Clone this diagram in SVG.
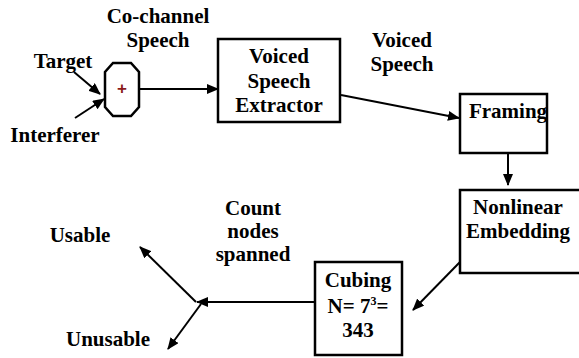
<svg xmlns="http://www.w3.org/2000/svg" width="579" height="358" viewBox="0 0 579 358">
<style>
  .t { font-family: "Liberation Serif", "Times New Roman", serif; font-weight: bold; font-size: 21px; fill: #000; text-anchor: middle; }
  .box { fill: #fff; stroke: #000; stroke-width: 2.5; }
  .c { stroke: #000; stroke-width: 2; fill: none; }
</style>
<defs>
  <marker id="ah" markerUnits="userSpaceOnUse" markerWidth="12" markerHeight="10" refX="11" refY="5" orient="auto">
    <path d="M0,0 L12,5 L0,10 z" fill="#000"/>
  </marker>
</defs>
<rect width="579" height="358" fill="#fff"/>

<g id="connectors">
  <line class="c" x1="74" y1="72" x2="100" y2="94" marker-end="url(#ah)"/>
  <line class="c" x1="75" y1="118" x2="104" y2="99" marker-end="url(#ah)"/>
  <line class="c" x1="140" y1="89" x2="218" y2="89" marker-end="url(#ah)"/>
  <line class="c" x1="341" y1="95" x2="459" y2="118" marker-end="url(#ah)"/>
  <line class="c" x1="508" y1="153" x2="508" y2="185" marker-end="url(#ah)"/>
  <line class="c" x1="460" y1="262" x2="413" y2="310" marker-end="url(#ah)"/>
  <line class="c" x1="315" y1="302" x2="197" y2="302" marker-end="url(#ah)"/>
  <line class="c" x1="196" y1="302" x2="140" y2="247" marker-end="url(#ah)"/>
  <line class="c" x1="201" y1="304" x2="168" y2="349" marker-end="url(#ah)"/>
</g>

<g id="labels">
  <text class="t" x="63" y="68">Target</text>
  <text class="t" x="55" y="142">Interferer</text>
  <text class="t" x="158" y="23">Co-channel</text>
  <text class="t" x="158" y="47">Speech</text>
  <text class="t" x="402" y="47">Voiced</text>
  <text class="t" x="402" y="71">Speech</text>
  <text class="t" x="253" y="215">Count</text>
  <text class="t" x="253" y="238">nodes</text>
  <text class="t" x="253" y="261">spanned</text>
  <text class="t" x="80" y="242">Usable</text>
  <text class="t" x="108" y="346">Unusable</text>
</g>

<g id="adder">
  <polygon points="113,63 131,63 139,72 139,107 131,116 113,116 105,107 105,72" fill="#fff" stroke="#000" stroke-width="2.5"/>
  <text x="122" y="94" style="font-family: 'Liberation Sans', Arial, sans-serif; font-weight: bold; font-size: 17px; fill: #8b1a1a; text-anchor: middle;">+</text>
</g>

<g id="extractor">
  <rect class="box" x="218" y="39" width="122" height="83"/>
  <text class="t" x="279" y="63">Voiced</text>
  <text class="t" x="279" y="88">Speech</text>
  <text class="t" x="279" y="112">Extractor</text>
</g>

<g id="framing">
  <rect class="box" x="460" y="94" width="87" height="59"/>
  <text class="t" x="508" y="118">Framing</text>
</g>

<g id="embedding">
  <rect class="box" x="460" y="190" width="125" height="83"/>
  <text class="t" x="518" y="214">Nonlinear</text>
  <text class="t" x="518" y="238">Embedding</text>
</g>

<g id="cubing">
  <rect class="box" x="315" y="262" width="87" height="93"/>
  <text class="t" x="358" y="287">Cubing</text>
  <text class="t" x="358" y="313">N= 7<tspan font-size="12" dy="-8">3</tspan><tspan dy="8">=</tspan></text>
  <text class="t" x="358" y="337">343</text>
</g>
</svg>
